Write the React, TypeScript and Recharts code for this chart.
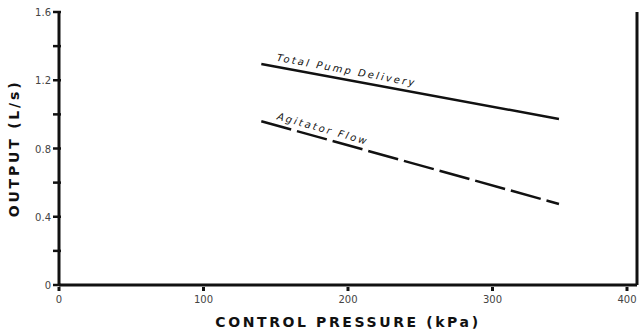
import { Label, Line, LineChart, ReferenceLine, XAxis, YAxis } from 'recharts';

const pressure = [140, 346];
const totalPump = [1.295, 0.973];
const agitatorFlow = [0.96, 0.475];

const xTicks = [0, 100, 200, 300, 400];
const yTicks = [0, 0.2, 0.4, 0.6, 0.8, 1.0, 1.2, 1.4, 1.6];
const yLabelled = ['0', '0.4', '0.8', '1.2', '1.6'];

const data = pressure.map((p, i) => ({ p, total: totalPump[i], agitator: agitatorFlow[i] }));

const ink = '#111';
const font = '"DejaVu Sans", sans-serif';

function YTick(props: any) {
  const { x, y, payload } = props;
  const text = payload.value === 0 ? '0' : payload.value.toFixed(1);
  const major = yLabelled.includes(text);
  return (
    <g>
      <line x1={x + 2} x2={x + 10} y1={y} y2={y} stroke={ink} strokeWidth={2.5} />
      {major && (
        <text x={x} y={y} dy={4} textAnchor="end" fontSize={10} fill="#444" fontFamily={font}>
          {text}
        </text>
      )}
    </g>
  );
}

function XTick(props: any) {
  const { x, y, payload } = props;
  return (
    <g>
      <line x1={x} x2={x} y1={y - 6} y2={y - 2} stroke={ink} strokeWidth={3} />
      <text x={x} y={y + 10} textAnchor="middle" fontSize={10} fill="#444" fontFamily={font}>
        {payload.value}
      </text>
    </g>
  );
}

function lineLabel(text: string, angle: number, spacing: number) {
  return (props: any) => {
    const { x, y, index } = props;
    if (index !== 0) return null;
    return (
      <g transform={`translate(${x},${y}) rotate(${angle})`}>
        <text x={14} y={-6} fontSize={10} fontStyle="italic" letterSpacing={spacing} fill={ink} fontFamily={font}>
          {text}
        </text>
      </g>
    );
  };
}

export default function App() {
  return (
    <div style={{ position: 'absolute', left: 0, top: 0, background: '#fff' }}>
      <LineChart width={639} height={331} data={data} margin={{ top: 12, right: 2, bottom: 0, left: 0 }}>
        <XAxis
          dataKey="p"
          type="number"
          domain={[0, 400]}
          ticks={xTicks}
          axisLine={{ stroke: ink, strokeWidth: 3 }}
          tickLine={false}
          tick={<XTick />}
          height={46}
        >
          <Label
            value="CONTROL PRESSURE (kPa)"
            position="insideBottom"
            offset={4}
            fontSize={14}
            fontWeight="bold"
            letterSpacing={2.6}
            fill={ink}
            fontFamily={font}
          />
        </XAxis>
        <YAxis
          type="number"
          domain={[0, 1.6]}
          ticks={yTicks}
          width={59}
          axisLine={{ stroke: ink, strokeWidth: 3 }}
          tickLine={false}
          tick={<YTick />}
          interval={0}
        >
          <Label
            value="OUTPUT (L/s)"
            angle={-90}
            position="insideLeft"
            offset={14}
            fontSize={14}
            fontWeight="bold"
            letterSpacing={2.8}
            fill={ink}
            fontFamily={font}
            style={{ textAnchor: 'middle' }}
          />
        </YAxis>
        <ReferenceLine x={400} stroke={ink} strokeWidth={3} />
        <Line
          dataKey="total"
          type="linear"
          stroke={ink}
          strokeWidth={2.5}
          dot={false}
          isAnimationActive={false}
          label={lineLabel('Total Pump Delivery', 10.5, 2.2)}
        />
        <Line
          dataKey="agitator"
          type="linear"
          stroke={ink}
          strokeWidth={2.5}
          strokeDasharray="31 6"
          dot={false}
          isAnimationActive={false}
          label={lineLabel('Agitator Flow', 15.8, 2.2)}
        />
      </LineChart>
    </div>
  );
}
